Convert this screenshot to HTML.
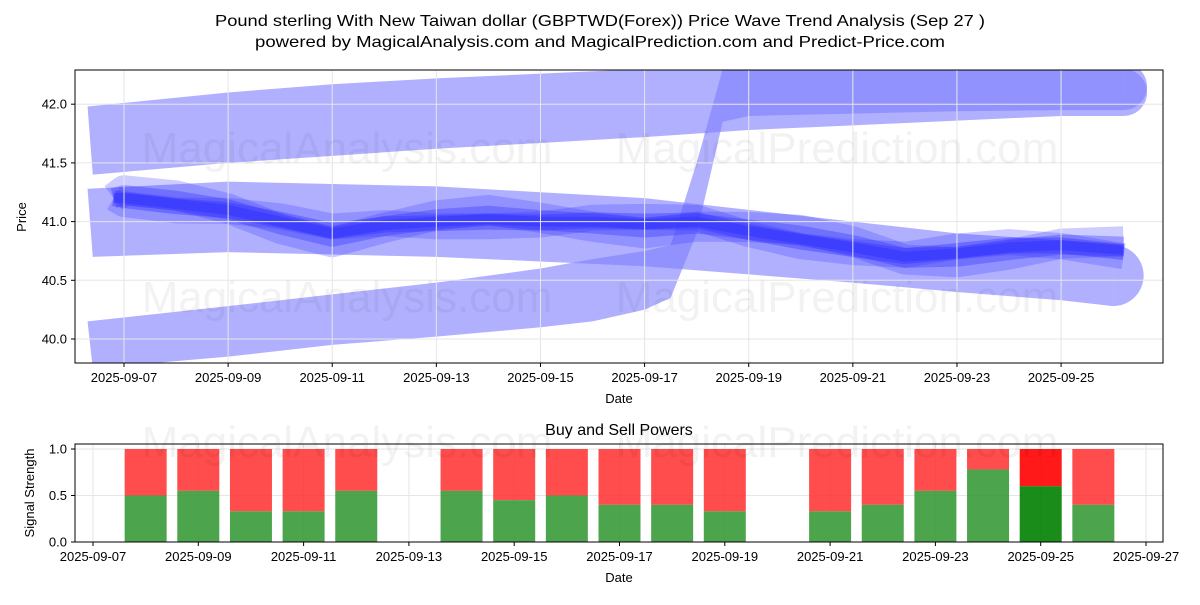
<!DOCTYPE html>
<html><head><meta charset="utf-8"><style>
body{margin:0;background:#fff;font-family:"Liberation Sans",sans-serif;}
svg text{font-family:"Liberation Sans",sans-serif;}
</style></head><body>
<svg id="c" width="1200" height="600" xmlns="http://www.w3.org/2000/svg">
<text x="600" y="26" text-anchor="middle" font-size="16" textLength="770" lengthAdjust="spacingAndGlyphs">Pound sterling With New Taiwan dollar (GBPTWD(Forex)) Price Wave Trend Analysis (Sep 27 )</text>
<text x="600" y="47" text-anchor="middle" font-size="16" textLength="690" lengthAdjust="spacingAndGlyphs">powered by MagicalAnalysis.com and MagicalPrediction.com and Predict-Price.com</text>
<defs><clipPath id="cp"><rect x="75" y="70" width="1088" height="293"/></clipPath></defs>
<g id="top" clip-path="url(#cp)"></g>
<g id="axes"></g>
</svg>
<script>
const priceTicks=[40.0,40.5,41.0,41.5,42.0];
const dateTicks=[7,9,11,13,15,17,19,21,23,25];
const bottomDateTicks=[7,9,11,13,15,17,19,21,23,25,27];
const mainDays=[6.8,7,8,9,10,11,12,13,14,15,16,17,18,19,20,21,22,23,24,25,26.2];
const mainVals=[41.2,41.2,41.15,41.1,41.0,40.9,40.97,41.0,41.02,41.0,41.0,40.98,41.0,40.92,40.85,40.78,40.7,40.73,40.78,40.8,40.76];
const upperDays=[6.3,9,11,13,15,17,19,21,23,25,26.2];
const upperTop=[41.98,42.1,42.17,42.22,42.26,42.3,42.3,42.3,42.3,42.3,42.3];
const upperBot=[41.4,41.5,41.56,41.62,41.67,41.72,41.78,41.82,41.86,41.9,41.9];
const midDays=[6.3,9,11,13,15,17,19,21,23,25,26];
const midTop=[41.28,41.34,41.32,41.3,41.25,41.2,41.1,41.0,40.9,40.84,40.8];
const midBot=[40.7,40.74,40.72,40.7,40.66,40.62,40.55,40.48,40.4,40.33,40.28];
const lowDays=[6.3,9,11,13,15,16,17,17.5,18,18.5,19,21,23,25,26.2];
const lowTop=[40.15,40.28,40.38,40.48,40.6,40.68,40.75,40.8,41.5,42.3,42.35,42.35,42.35,42.35,42.35];
const lowBot=[39.75,39.85,39.95,40.02,40.1,40.15,40.25,40.35,40.9,41.85,41.9,41.92,41.94,41.95,41.95];
const barDays=[8,9,10,11,12,14,15,16,17,18,19,21,22,23,24,25,26];
const buyVals=[0.5,0.55,0.33,0.33,0.55,0.55,0.45,0.5,0.4,0.4,0.33,0.33,0.4,0.55,0.78,0.6,0.4];
const strengthTicks=[0.0,0.5,1.0];
const NS="http://www.w3.org/2000/svg";
const xT=d=>124+(d-7)*52.06, yT=v=>339-(v-40)*117.4;
const xB=d=>93+(d-7)*52.65, yB=v=>542-v*93;
const svg=document.getElementById('c'),top_=document.getElementById('top'),ax=document.getElementById('axes');
function mk(t,a,p){const e=document.createElementNS(NS,t);for(const k in a)e.setAttribute(k,a[k]);(p||svg).appendChild(e);return e;}
for(const v of priceTicks){const l=mk('line',{x1:75,x2:1163,y1:yT(v),y2:yT(v),stroke:'#e6e6e6'},ax);

}
for(const d of dateTicks){const l=mk('line',{x1:xT(d),x2:xT(d),y1:70,y2:363,stroke:'#e6e6e6'},ax);

}
[[347,163,'MagicalAnalysis.com'],[837,163,'MagicalPrediction.com'],[347,312,'MagicalAnalysis.com'],[837,312,'MagicalPrediction.com'],[347,457,'MagicalAnalysis.com'],[837,457,'MagicalPrediction.com']].forEach(w=>{const t=mk('text',{x:w[0],y:w[1],'text-anchor':'middle','font-size':44,fill:'#000','fill-opacity':0.05});t.textContent=w[2];

});
function band(days,tp,bt,name,op){let p=days.map((d,i)=>xT(d)+','+yT(tp[i]));
for(let i=days.length-1;i>=0;i--)p.push(xT(days[i]+(i==0?0.1:0))+','+yT(bt[i]));
const e=mk('polygon',{points:p.join(' '),fill:'#8080ff','fill-opacity':op},top_);


const n=days.length-1,cx=xT(days[n]),cy=(yT(tp[n])+yT(bt[n]))/2,r=(yT(bt[n])-yT(tp[n]))/2;
const c=mk('path',{d:`M${cx},${cy-r} A${r},${r} 0 0 1 ${cx},${cy+r} Z`,fill:'#8080ff','fill-opacity':op},top_);

}
band(upperDays,upperTop,upperBot,'upper-wave-band',0.62);
band(midDays,midTop,midBot,'middle-wave-band',0.62);
band(lowDays,lowTop,lowBot,'lower-wave-band',0.62);
const offs=[[0.08,30,0.25],[-0.06,26,0.25],[0.03,20,0.35],[-0.02,16,0.4],[0,10,0.55]];
for(const o of offs){const l=mk('polyline',{points:mainDays.map((d,i)=>xT(d)+','+yT(mainVals[i]+o[0]*Math.sin(i))).join(' '),fill:'none',stroke:'#3333ff','stroke-width':o[1],'stroke-opacity':o[2],'stroke-linejoin':'round'},top_);

}
mk('rect',{x:75,y:70,width:1088,height:293,fill:'none',stroke:'#000'},ax);
for(const v of priceTicks){mk('line',{x1:71,x2:75,y1:yT(v),y2:yT(v),stroke:'#000'},ax);
const t=mk('text',{x:67,y:yT(v)+4.5,'text-anchor':'end','font-size':13},ax);t.textContent=v.toFixed(1);

}
for(const d of dateTicks){mk('line',{x1:xT(d),x2:xT(d),y1:363,y2:367,stroke:'#000'},ax);
const t=mk('text',{x:xT(d),y:382,'text-anchor':'middle','font-size':13},ax);t.textContent='2025-09-'+String(d).padStart(2,'0');

}
let t=mk('text',{x:619,y:403,'text-anchor':'middle','font-size':13},ax);t.textContent='Date';


t=mk('text',{x:26,y:217,'text-anchor':'middle','font-size':13,transform:'rotate(-90 26 217)'},ax);t.textContent='Price';


t=mk('text',{x:619,y:435,'text-anchor':'middle','font-size':16},ax);t.textContent='Buy and Sell Powers';


for(const v of strengthTicks){const l=mk('line',{x1:75,x2:1163,y1:yB(v),y2:yB(v),stroke:'#e6e6e6'},ax);

}
for(const d of bottomDateTicks){const l=mk('line',{x1:xB(d),x2:xB(d),y1:444,y2:542,stroke:'#e6e6e6'},ax);

}
barDays.forEach((d,i)=>{const dark=d===25,w=42,x=xB(d)-w/2;
const s=mk('rect',{x:x,y:yB(1),width:w,height:yB(buyVals[i])-yB(1),fill:dark?'#ff0000':'#ff3333','fill-opacity':dark?0.9:0.88},ax);


const b=mk('rect',{x:x,y:yB(buyVals[i]),width:w,height:yB(0)-yB(buyVals[i]),fill:dark?'#008000':'#339933','fill-opacity':dark?0.9:0.88},ax);

});
mk('rect',{x:75,y:444,width:1088,height:98,fill:'none',stroke:'#000'},ax);
for(const v of strengthTicks){mk('line',{x1:71,x2:75,y1:yB(v),y2:yB(v),stroke:'#000'},ax);
const t2=mk('text',{x:67,y:yB(v)+4.5,'text-anchor':'end','font-size':13},ax);t2.textContent=v.toFixed(1);

}
for(const d of bottomDateTicks){mk('line',{x1:xB(d),x2:xB(d),y1:542,y2:546,stroke:'#000'},ax);
const t2=mk('text',{x:xB(d),y:561,'text-anchor':'middle','font-size':13},ax);t2.textContent='2025-09-'+String(d).padStart(2,'0');

}
t=mk('text',{x:619,y:582,'text-anchor':'middle','font-size':13},ax);t.textContent='Date';


t=mk('text',{x:34,y:493,'text-anchor':'middle','font-size':13,transform:'rotate(-90 34 493)'},ax);t.textContent='Signal Strength';


</script>
</body></html>
